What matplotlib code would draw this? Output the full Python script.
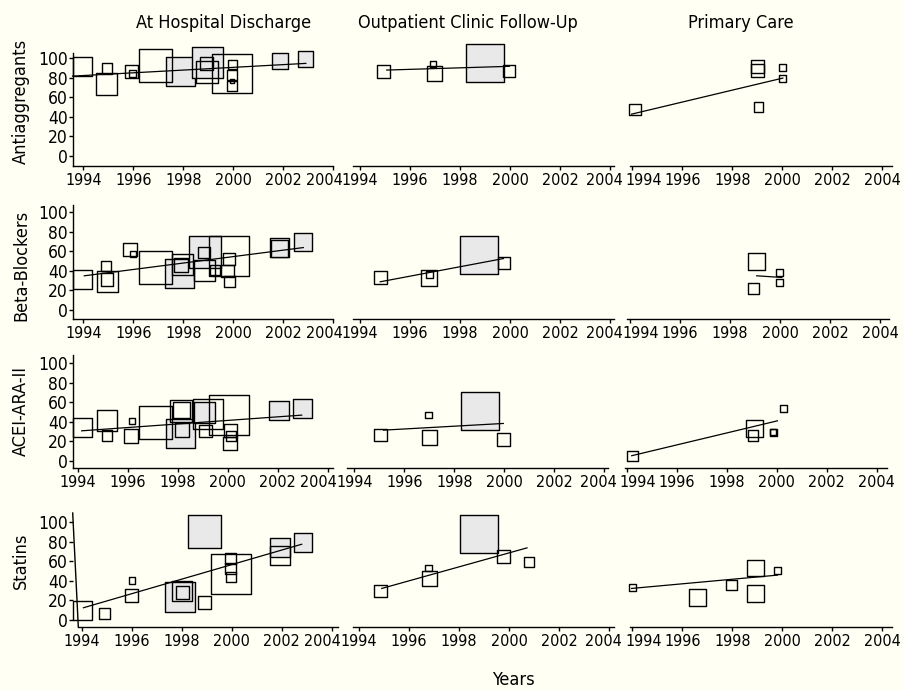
import matplotlib.pyplot as plt
from matplotlib import font_manager as fm
from matplotlib.transforms import ScaledTranslation

# Stata-like narrow sans face, if the machine has one
narrow = None
for pref in ('liberation sans narrow', 'dejavu sans condensed', 'condensed', 'narrow'):
    for f in fm.fontManager.ttflist:
        tag = (f.name + ' ' + f.fname + ' ' + str(f.stretch)).lower()
        if (pref in tag and 'mono' not in tag and 'bold' not in tag.replace(f.name.lower(), '')
                and f.style == 'normal' and f.weight in (400, 'normal', 'regular', 'book')):
            narrow = f
            break
    if narrow is not None:
        break

if narrow is not None:
    plt.rcParams['font.family'] = [narrow.name, 'DejaVu Sans']
    plt.rcParams['font.stretch'] = narrow.stretch
    FS, TFS = 13, 11.5
else:
    plt.rcParams['font.family'] = ['Liberation Sans', 'DejaVu Sans']
    FS, TFS = 11.5, 10.5

settings = ['At Hospital Discharge', 'Outpatient Clinic Follow-Up', 'Primary Care']
drugs = ['Antiaggregants', 'Beta-Blockers', 'ACEI-ARA-II', 'Statins']
year_ticks = [1994, 1996, 1998, 2000, 2002, 2004]
pct_ticks = [0, 20, 40, 60, 80, 100]

# studies: (year, percent, weight as box side, pooled/filled)
anti_hosp = [(1993.97, 91.1, 19.3, 0), (1994.95, 89.1, 10.7, 0), (1994.93, 73.4, 21.3, 0),
             (1995.93, 86.0, 12.7, 0), (1995.97, 84.0, 6.7, 0), (1996.89, 92.5, 33.0, 0),
             (1997.89, 86.0, 29.0, 1), (1998.97, 95.6, 30.7, 1), (1998.95, 85.7, 22.0, 0),
             (1998.93, 94.2, 12.7, 0), (1999.95, 84.3, 39.3, 0), (1999.96, 93.2, 9.0, 0),
             (1999.96, 82.3, 10.0, 0), (1999.96, 76.8, 4.0, 0), (1999.96, 71.0, 10.0, 0),
             (2001.88, 96.6, 15.7, 1), (2002.89, 99.0, 15.7, 1)]
anti_hosp_fit = ([1993.57, 2002.9], [81.5, 94.5])

anti_out = [(1994.95, 86.0, 12.7, 0), (1996.93, 94.2, 5.7, 0), (1996.98, 84.3, 15.3, 0),
            (1998.98, 95.2, 37.7, 1), (1999.96, 86.3, 12.0, 0)]
anti_out_fit = ([1995.07, 1999.97], [87.7, 91.5])

anti_pc = [(1994.11, 47.8, 11.3, 0), (1999.02, 91.0, 12.7, 0), (1999.02, 87.0, 12.7, 0),
           (1999.05, 49.8, 9.5, 0), (2000.02, 90.1, 7.0, 0), (2000.02, 79.5, 7.0, 0)]
anti_pc_fit = ([1993.97, 2000.02], [42.7, 79.5])

beta_hosp = [(1993.97, 31.2, 19.3, 0), (1994.91, 45.1, 10.0, 0), (1994.95, 28.8, 21.0, 0),
             (1994.95, 31.2, 12.3, 0), (1995.87, 62.0, 13.3, 0), (1995.97, 57.6, 6.0, 0),
             (1996.89, 43.7, 33.3, 0), (1997.84, 36.9, 29.0, 1), (1997.97, 46.4, 21.7, 0),
             (1997.91, 45.8, 13.3, 0), (1998.88, 59.0, 32.3, 1), (1998.84, 58.6, 11.7, 0),
             (1998.84, 40.0, 21.0, 0), (1999.83, 55.6, 40.0, 0), (1999.27, 40.7, 10.0, 0),
             (1999.83, 51.9, 12.0, 0), (1999.77, 39.7, 12.7, 0), (1999.83, 29.5, 11.0, 0),
             (2001.85, 63.7, 19.3, 1), (2001.85, 62.4, 16.7, 1), (2002.79, 69.5, 17.3, 1)]
beta_hosp_fit = ([1994.04, 2002.8], [34.9, 63.7])

beta_out = [(1994.81, 33.6, 13.0, 0), (1996.77, 32.9, 15.7, 0), (1996.77, 35.9, 7.3, 0),
            (1998.77, 56.6, 38.0, 1), (1999.74, 48.1, 12.0, 0)]
beta_out_fit = ([1994.81, 1999.74], [28.8, 52.5])

beta_pc = [(1999.05, 49.8, 17.3, 0), (1998.93, 21.7, 11.3, 0), (1999.99, 38.3, 7.0, 0),
           (1999.99, 27.8, 7.0, 0)]
beta_pc_fit = ([1999.07, 2000.07], [34.9, 33.2])

acei_hosp = [(1994.19, 34.2, 19.7, 0), (1995.17, 41.0, 20.7, 0), (1995.17, 25.8, 10.7, 0),
             (1996.16, 40.7, 6.0, 0), (1996.15, 25.1, 14.0, 0), (1997.12, 39.3, 33.3, 0),
             (1998.12, 27.8, 29.3, 1), (1998.15, 51.5, 22.0, 0), (1998.16, 51.9, 16.7, 0),
             (1998.17, 31.5, 14.0, 0), (1999.20, 47.8, 30.0, 0), (1999.09, 49.2, 21.0, 1),
             (1999.11, 30.5, 12.3, 0), (2000.04, 47.1, 40.0, 0), (2000.12, 31.2, 12.7, 0),
             (2000.12, 25.4, 10.0, 0), (2000.09, 17.6, 13.3, 0), (2002.05, 51.2, 19.3, 1),
             (2003.00, 53.9, 19.0, 1)]
acei_hosp_fit = ([1994.16, 2002.96], [30.8, 46.8])

acei_out = [(1995.04, 26.4, 12.7, 0), (1996.98, 46.8, 6.7, 0), (1997.00, 23.7, 15.0, 0),
            (1999.01, 51.2, 37.7, 1), (1999.98, 21.7, 13.3, 0)]
acei_out_fit = ([1995.17, 1999.96], [31.5, 38.3])

acei_pc = [(1994.22, 5.1, 10.7, 0), (1999.10, 33.2, 17.3, 0), (1999.05, 25.8, 10.7, 0),
           (1999.87, 28.8, 7.3, 0), (1999.84, 29.5, 6.3, 0), (2000.28, 53.9, 7.3, 0)]
acei_pc_fit = ([1994.20, 2000.03], [5.4, 41.0])

stat_hosp = [(1994.03, 9.5, 19.3, 0), (1994.92, 6.8, 10.7, 0), (1996.01, 40.3, 6.7, 0),
             (1996.00, 24.7, 13.3, 0), (1997.93, 23.7, 30.0, 1), (1998.00, 29.5, 20.0, 0),
             (1998.03, 28.1, 13.3, 0), (1998.92, 90.5, 32.7, 1), (1998.90, 18.0, 13.3, 0),
             (1999.96, 47.1, 40.0, 0), (1999.96, 62.4, 10.7, 0), (1999.96, 52.5, 10.7, 0),
             (1999.96, 44.1, 10.0, 0), (2001.93, 74.0, 19.3, 1), (2001.93, 66.0, 19.3, 0),
             (2002.84, 79.0, 18.3, 1)]
stat_hosp_fit = ([1994.07, 2002.8], [12.5, 77.3])

stat_out = [(1994.85, 29.5, 12.7, 0), (1996.78, 53.2, 6.7, 0), (1996.82, 42.4, 15.0, 0),
            (1998.81, 87.5, 37.7, 1), (1999.79, 65.1, 13.3, 0), (2000.78, 59.3, 10.0, 0)]
stat_out_fit = ([1994.91, 2000.72], [32.2, 73.6])

stat_pc = [(1993.99, 33.2, 7.0, 0), (1996.60, 22.7, 16.7, 0), (1997.98, 35.6, 10.7, 0),
           (1998.93, 53.2, 16.7, 0), (1998.93, 27.1, 16.7, 0), (1999.81, 50.8, 7.3, 0)]
stat_pc_fit = ([1993.97, 1999.81], [32.2, 45.8])

studies = [[anti_hosp, anti_out, anti_pc], [beta_hosp, beta_out, beta_pc],
           [acei_hosp, acei_out, acei_pc], [stat_hosp, stat_out, stat_pc]]
fits = [[anti_hosp_fit, anti_out_fit, anti_pc_fit], [beta_hosp_fit, beta_out_fit, beta_pc_fit],
        [acei_hosp_fit, acei_out_fit, acei_pc_fit], [stat_hosp_fit, stat_out_fit, stat_pc_fit]]

# layout in pixels
W, H = 904, 690
PPY, PPU = 25.0, 0.98   # px per year, px per percent
rows_px = [(156, 165.7, 53), (310, 319.3, 205), (461, 467.7, 355), (620, 626.7, 513)]  # zero, axis, top
panels_px = [[(72.7, 333.5, 83.3), (352.7, 614, 360), (630, 892, 632.3)],
             [(72.7, 333.5, 83.3), (352.7, 614, 360), (626.7, 889.3, 630)],
             [(72.7, 333.3, 77.7), (346.7, 608.3, 354.3), (625, 886.7, 626.7)],
             [(72.7, 338, 81.7), (352.7, 614, 359), (630, 892, 632.3)]]
label_y = [101.5, 265, 411.5, 561]
title_x = [224, 468, 741]
# sideways nudges (px) of crowded year labels at panel edges: (column, tick index, dx)
nudges = [(0, -1, -9), (1, -1, -6), (2, 0, 11)]

BG = '#fffff3'
FILL = '#e9e9e9'

fig = plt.figure(figsize=(W / 100, H / 100), dpi=100, facecolor=BG)

for r in range(4):
    zero, bot, top = rows_px[r]
    for c in range(3):
        L, R, x0 = panels_px[r][c]
        ax = fig.add_axes([L / W, 1 - bot / H, (R - L) / W, (bot - top) / H])
        ax.set_facecolor('none')
        ax.set_xlim(1994 + (L - x0) / PPY, 1994 + (R - x0) / PPY)
        ax.set_ylim((zero - bot) / PPU, (zero - top) / PPU)

        pts = studies[r][c]
        for filled in (1, 0):
            sel = [p for p in pts if p[3] == filled]
            if not sel:
                continue
            ax.scatter([p[0] for p in sel], [p[1] for p in sel],
                       s=[(p[2] * 0.72) ** 2 for p in sel], marker='s',
                       facecolors=FILL if filled else 'none', edgecolors='black',
                       linewidths=1.0, clip_on=False, zorder=2 if filled else 3)
        fx, fy = fits[r][c]
        ax.plot(fx, fy, color='black', lw=0.9, zorder=4, clip_on=False)

        for s in ('top', 'right'):
            ax.spines[s].set_visible(False)
        for s in ('left', 'bottom'):
            ax.spines[s].set_linewidth(1.0)
        ax.set_xticks(year_ticks)
        ax.tick_params(axis='x', length=3, width=1, pad=2, labelsize=TFS, colors='black')
        if c == 0:
            ax.set_yticks(pct_ticks)
            ax.tick_params(axis='y', length=3, width=1, pad=0.5, labelsize=TFS + 1)
            if r == 3:
                ax.spines['left'].set_visible(False)
                ax.plot([0, 5.6 / (R - L)], [1, 0], transform=ax.transAxes,
                        color='black', lw=1.0, clip_on=False)
                lo, hi = ax.get_xlim()
                ax.spines['bottom'].set_bounds(lo + 5.6 / PPY, hi)
        else:
            ax.spines['left'].set_visible(False)
            ax.set_yticks([])
        for col, idx, dx in nudges:
            if col == c:
                lab = ax.xaxis.get_major_ticks()[idx].label1
                lab.set_transform(lab.get_transform() +
                                  ScaledTranslation(dx / 100, 0, fig.dpi_scale_trans))

for c in range(3):
    fig.text(title_x[c] / W, 1 - 23 / H, settings[c], ha='center', va='center', fontsize=FS)
for r in range(4):
    fig.text(21 / W, 1 - label_y[r] / H, drugs[r], rotation=90, ha='center', va='center', fontsize=FS)
fig.text(513 / W, 1 - 680 / H, 'Years', ha='center', va='center', fontsize=FS)

fig.savefig('out.png', dpi=100, facecolor=BG)
